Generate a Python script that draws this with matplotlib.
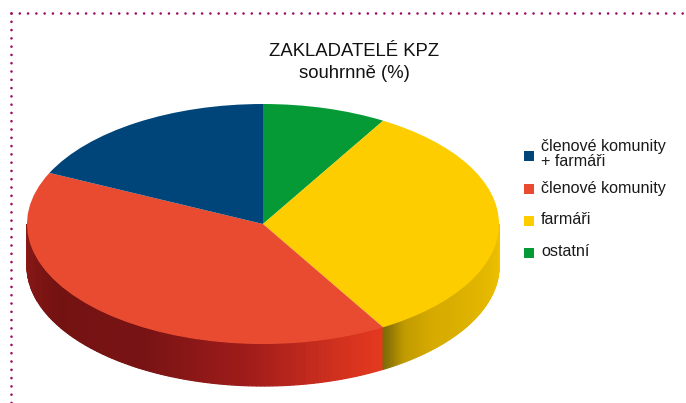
import numpy as np
import matplotlib
matplotlib.use("Agg")
import matplotlib.pyplot as plt
from matplotlib.colors import LinearSegmentedColormap

labels = ["členové komunity\n+ farmáři", "členové komunity", "farmáři", "ostatní"]
values = [18, 40.5, 33, 8.5]  # percent
colors = ["#004579", "#e84b2f", "#fdcd00", "#069a36"]
title = "ZAKLADATELÉ KPZ"
subtitle = "souhrnně (%)"

plt.rcParams["font.family"] = ["Liberation Sans", "DejaVu Sans"]

W, H = 686, 403
cx, cy, rx, ry, depth = 263, 224, 236, 120, 42

fig = plt.figure(figsize=(W / 100, H / 100), dpi=100)

# page axes in pixels, y going down
page = fig.add_axes([0, 0, 1, 1])
page.set_xlim(0, W)
page.set_ylim(H, 0)
page.axis("off")

# pie axes: radius 1 is the ellipse, centre at 0,0
ax = fig.add_axes([0, 0, 1, 1])
ax.patch.set_alpha(0)

# order on the circle clockwise from the top: green, yellow, red, blue
order = [3, 2, 1, 0]
ax.pie([values[i] for i in order], colors=[colors[i] for i in order],
       startangle=90, counterclock=False, radius=1,
       wedgeprops={"linewidth": 0})
ax.set_aspect("auto")
ax.set_xlim(-cx / rx, (W - cx) / rx)
ax.set_ylim((cy - H) / ry, cy / ry)
ax.axis("off")

# side wall, thin strips so it can have a gradient
red_wall = LinearSegmentedColormap.from_list("r", [
    (0, "#8c1a17"), (0.25, "#741212"), (0.5, "#781314"),
    (0.72, "#a01c1a"), (0.9, "#d0301e"), (1, "#e4391f")])
yellow_wall = LinearSegmentedColormap.from_list("y", [
    (0, "#7d6a08"), (0.1, "#c09a00"), (0.25, "#d6aa00"), (1, "#eec200")])
ang = np.cumsum([values[i] for i in order]) * 3.6
yellow_end = 90 - ang[1]  # yellow/red boundary in maths degrees


def wall(a0, a1, cmap):
    t = np.linspace(a0, a1, 121)
    d = depth / ry
    for i in range(len(t) - 1):
        a = np.radians(t[i:i + 2])
        x = np.cos(a)
        y = np.sin(a)
        c = cmap(i / (len(t) - 2))
        ax.fill([x[0], x[1], x[1], x[0]], [y[0], y[1], y[1] - d, y[0] - d],
                facecolor=c, edgecolor=c, lw=0.9, zorder=0)


wall(-180, yellow_end, red_wall)
wall(yellow_end, 0, yellow_wall)

# dotted frame
frame = "#9b0a62"
page.plot([11, W], [13, 13], color=frame, lw=1.9, linestyle=(0, (0.01, 3.13)), dash_capstyle="round")
page.plot([11, 11], [13, H], color=frame, lw=1.9, linestyle=(0, (0.01, 3.13)), dash_capstyle="round")

page.text(354, 52, title, fontsize=13.3, ha="center", va="center", color="#111111")
page.text(354, 74, subtitle, fontsize=13.3, ha="center", va="center", color="#111111")

# legend
key_y = [156, 189, 221, 253]
text_y = [154, 189, 220, 251]
for lab, col, ky, ty in zip(labels, colors, key_y, text_y):
    page.scatter([528.5], [ky], marker="s", s=46, color=col, linewidths=0)
    page.text(541, ty, lab, fontsize=11.6, ha="left", va="center", color="#1a1a1a", linespacing=1.03)

fig.savefig("out.png", dpi=100)
